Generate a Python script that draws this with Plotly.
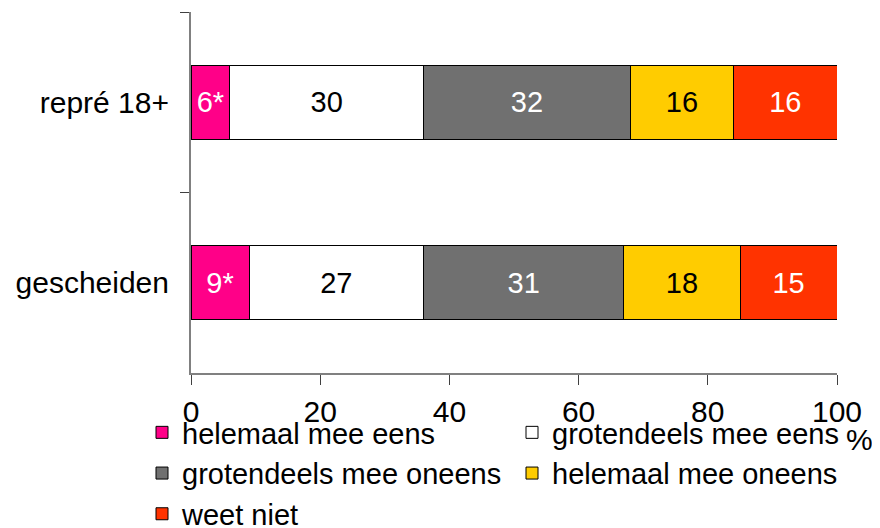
import plotly.graph_objects as go

categories = ["repré 18+", "gescheiden"]
series_names = ["helemaal mee eens", "grotendeels mee eens", "grotendeels mee oneens",
                "helemaal mee oneens", "weet niet"]
values = {
    "helemaal mee eens": [6, 9],
    "grotendeels mee eens": [30, 27],
    "grotendeels mee oneens": [32, 31],
    "helemaal mee oneens": [16, 18],
    "weet niet": [16, 15],
}
label_suffix = {
    "helemaal mee eens": "*",
    "grotendeels mee eens": "",
    "grotendeels mee oneens": "",
    "helemaal mee oneens": "",
    "weet niet": "",
}
colors = ["#FF0088", "#FFFFFF", "#707070", "#FFCC00", "#FF3300"]
text_colors = ["white", "black", "white", "black", "white"]
x_ticks = [0, 20, 40, 60, 80, 100]

FONT = "Liberation Sans, Arial, sans-serif"
FS = 30

fig = go.Figure()
for name, col, tcol in zip(series_names, colors, text_colors):
    fig.add_trace(go.Bar(
        name=name,
        y=categories,
        x=values[name],
        orientation="h",
        marker=dict(color=col, line=dict(color="black", width=1)),
        text=[f"{v}{label_suffix[name]}" for v in values[name]],
        textposition="inside",
        insidetextanchor="middle",
        textangle=0,
        constraintext="none",
        textfont=dict(color=tcol, size=FS - 1, family=FONT),
        hoverinfo="skip",
    ))

fig.update_layout(
    barmode="stack",
    bargap=0.59,
    width=880, height=528,
    margin=dict(l=183, r=51, t=4, b=163, autoexpand=False),
    plot_bgcolor="white",
    paper_bgcolor="white",
    font=dict(family=FONT, size=FS, color="black"),
    showlegend=True,
    legend=dict(
        orientation="h",
        x=(142 - 191) / 646, xanchor="left",
        y=-34 / 361, yanchor="top",
        entrywidth=325, entrywidthmode="pixels",
        traceorder="normal",
        font=dict(size=29, family=FONT, color="black"),
        itemwidth=30,
        tracegroupgap=0,
        bgcolor="rgba(0,0,0,0)",
    ),
    annotations=[dict(
        text="%", xref="paper", yref="paper",
        x=(859 - 191) / 646, y=-66 / 361,
        xanchor="center", yanchor="middle",
        showarrow=False, font=dict(size=FS, family=FONT, color="black"),
    )],
)

fig.update_xaxes(
    range=[0, 100],
    tickvals=x_ticks,
    ticks="outside", ticklen=10, tickcolor="#404040", tickwidth=1,
    showline=True, linecolor="#808080", linewidth=2,
    showgrid=False, zeroline=False,
    ticklabelstandoff=1,
    tickfont=dict(size=FS, family=FONT, color="black"),
)
fig.update_yaxes(
    type="category",
    categoryorder="array", categoryarray=categories,
    autorange="reversed",
    tickson="boundaries",
    ticks="outside", ticklen=9, tickcolor="#404040", tickwidth=1,
    showline=True, linecolor="#808080", linewidth=2,
    showgrid=False, zeroline=False,
    ticklabelstandoff=14,
    tickfont=dict(size=FS, family=FONT, color="black"),
)

fig.write_html("out.html")
